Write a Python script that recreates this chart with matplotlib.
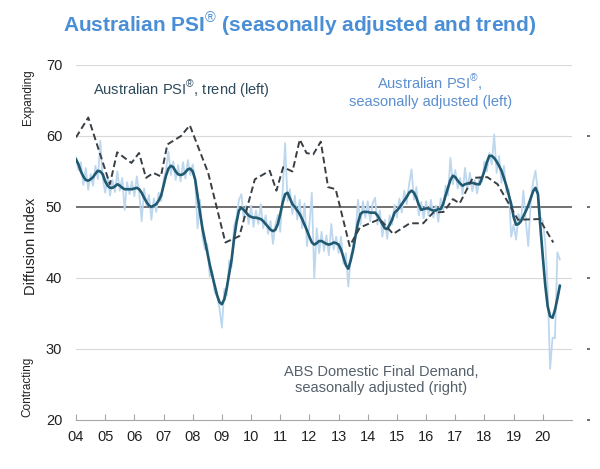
import numpy as np
import matplotlib
matplotlib.use("Agg")
import matplotlib.pyplot as plt

plt.rcParams['font.family'] = ['Liberation Sans', 'DejaVu Sans']
plt.rcParams['mathtext.fontset'] = 'custom'
plt.rcParams['mathtext.rm'] = 'Liberation Sans'

# Australian PSI, trend (monthly from Jan 2004)
psi_trend = [
    56.7, 56.0, 55.0, 54.3, 53.8, 53.7, 53.9, 54.2, 54.7, 55.1, 55.0, 54.6,  # 2004
    53.6, 53.0, 52.7, 52.7, 52.9, 53.2, 53.0, 52.7, 52.5, 52.5, 52.5, 52.5,  # 2005
    52.6, 52.7, 52.5, 52.0, 51.3, 50.7, 50.2, 50.0, 50.2, 50.4, 50.9, 51.6,  # 2006
    53.0, 54.4, 55.4, 55.8, 55.6, 55.0, 54.6, 54.5, 54.6, 54.9, 55.3, 55.4,  # 2007
    55.0, 53.9, 51.5, 49.2, 47.0, 45.3, 43.6, 41.9, 40.4, 39.0, 37.6, 36.6,  # 2008
    36.3, 37.0, 38.6, 40.6, 42.6, 45.5, 47.8, 49.5, 49.9, 49.6, 49.2, 48.8,  # 2009
    48.6, 48.5, 48.5, 48.4, 48.3, 48.0, 47.6, 47.2, 46.8, 46.6, 46.8, 47.6,  # 2010
    49.0, 50.6, 51.8, 52.0, 51.2, 50.4, 50.0, 49.5, 49.0, 48.3, 47.5, 46.7,  # 2011
    45.8, 45.0, 44.7, 44.9, 45.2, 45.2, 45.0, 44.8, 44.7, 44.8, 45.0, 44.9,  # 2012
    44.7, 44.0, 42.9, 41.8, 41.3, 42.5, 44.0, 46.0, 47.8, 49.0, 49.3, 49.3,  # 2013
    49.3, 49.2, 49.2, 49.2, 48.8, 48.2, 47.6, 47.0, 46.9, 47.5, 48.2, 49.2,  # 2014
    49.5, 49.9, 50.4, 50.9, 51.4, 52.0, 52.3, 52.0, 51.3, 50.3, 49.6, 49.7,  # 2015
    49.8, 49.8, 49.6, 49.5, 49.5, 49.7, 49.7, 50.4, 51.6, 52.7, 53.8, 54.4,  # 2016
    54.2, 53.7, 53.3, 53.0, 53.2, 53.3, 53.4, 53.4, 53.3, 53.2, 53.2, 54.1,  # 2017
    55.1, 56.3, 57.2, 57.2, 56.9, 56.4, 55.8, 55.1, 54.1, 53.0, 51.7, 50.4,  # 2018
    48.6, 47.5, 47.6, 48.0, 48.7, 49.4, 50.2, 51.2, 52.2, 52.7, 51.8, 47.2,  # 2019
    43.0, 39.0, 36.0, 34.6, 34.4, 35.5, 37.1, 38.9,                          # 2020
]

# Australian PSI, seasonally adjusted (monthly from Jan 2004)
psi_sa = [
    57.0, 55.2, 56.3, 53.1, 55.5, 52.4, 54.6, 53.0, 55.8, 53.9, 59.3, 54.0,  # 2004
    52.0, 54.2, 51.6, 53.8, 52.1, 55.0, 52.3, 54.1, 49.6, 53.5, 51.8, 53.6,  # 2005
    51.5, 54.3, 52.0, 48.0, 52.6, 50.2, 51.7, 48.2, 51.2, 49.3, 52.0, 50.8,  # 2006
    53.8, 55.2, 57.8, 54.5, 56.4, 53.8, 55.9, 53.6, 56.3, 54.0, 56.6, 54.5,  # 2007
    56.0, 53.5, 47.0, 51.0, 45.8, 44.0, 44.8, 40.2, 41.0, 38.0, 37.5, 35.8,  # 2008
    33.0, 38.5, 37.5, 42.5, 41.5, 47.3, 48.5, 51.0, 51.8, 48.3, 50.2, 47.6,  # 2009
    50.2, 47.2, 49.5, 47.6, 50.4, 47.0, 48.8, 46.2, 48.0, 44.8, 47.5, 48.9,  # 2010
    46.5, 52.3, 59.0, 50.8, 52.5, 49.0, 51.6, 48.2, 51.0, 47.0, 50.5, 44.5,  # 2011
    47.5, 52.0, 40.0, 47.0, 43.5, 46.5, 43.8, 46.0, 43.2, 47.6, 44.0, 45.8,  # 2012
    43.5, 45.8, 42.0, 43.5, 38.8, 43.0, 44.5, 46.3, 51.0, 47.5, 50.8, 48.5,  # 2013
    50.8, 48.0, 50.5, 51.3, 47.5, 49.5, 45.8, 48.2, 45.5, 48.8, 47.5, 50.3,  # 2014
    48.5, 51.2, 49.2, 52.3, 50.4, 53.2, 55.3, 51.0, 52.8, 48.8, 50.7, 48.4,  # 2015
    50.8, 48.8, 51.0, 48.5, 50.2, 47.9, 51.2, 49.6, 53.0, 51.6, 56.9, 53.2,  # 2016
    55.2, 52.6, 54.1, 51.8, 55.5, 52.5, 54.8, 52.2, 53.8, 51.9, 54.2, 53.5,  # 2017
    56.4, 55.0, 57.6, 56.0, 60.2, 54.8, 57.2, 53.4, 55.8, 52.0, 52.5, 45.8,  # 2018
    47.5, 45.4, 49.0, 47.8, 52.3, 48.0, 44.5, 50.5, 53.5, 55.1, 52.0, 48.6,  # 2019
    48.0, 45.0, 38.6, 27.2, 31.6, 31.5, 43.6, 42.6,                          # 2020
]

# ABS domestic final demand, annual % change (right axis)
dfd_date = [2004.0, 2004.42, 2005.16, 2005.41, 2005.9, 2006.16, 2006.4, 2006.65,
            2006.91, 2007.13, 2007.6, 2007.9, 2008.53, 2009.12, 2009.6, 2010.13,
            2010.64, 2010.87, 2011.1, 2011.42, 2011.67, 2011.9, 2012.13, 2012.39,
            2012.64, 2012.9, 2013.38, 2013.73, 2014.41, 2014.87, 2015.44, 2015.9,
            2016.24, 2016.6, 2016.92, 2017.15, 2017.6, 2018.1, 2018.45, 2019.15,
            2019.88, 2020.36]
dfd_pct = [5.92, 7.04, 3.28, 5.08, 4.48, 5.04, 3.64, 3.92,
           3.72, 5.52, 6.0, 6.6, 3.92, 0.0, 0.36, 3.56,
           4.04, 2.92, 4.24, 4.0, 5.8, 5.04, 4.96, 5.68,
           3.12, 3.0, -0.2, 0.84, 1.32, 0.48, 1.08, 1.08,
           1.68, 1.72, 2.44, 2.2, 3.64, 3.68, 3.28, 1.28,
           1.32, 0.0]

years = list(range(2004, 2021))
year_labels = ["%02d" % (y % 100) for y in years]
left_ticks = [20, 30, 40, 50, 60, 70]
right_ticks = [-10, -6, -2, 2, 6]

months = 2004 + np.arange(len(psi_trend)) / 12.0

fig = plt.figure(figsize=(6, 4.69), dpi=100)
ax = fig.add_axes([0.1267, 0.1045, 0.8266, 0.757])

for v in [30, 40, 60, 70]:
    ax.axhline(v, color="#d9d9d9", lw=0.8, zorder=0)
ax.axhline(50, color="#595959", lw=1.2, zorder=1)

ax.plot(months, psi_sa, color="#bdd7ee", lw=1.3, zorder=2)
ax.plot(months, psi_trend, color="#1f5a72", lw=1.9, zorder=3)

ax.set_xlim(2004, 2021)
ax.set_ylim(20, 70)
ax.set_yticks(left_ticks)
ax.set_xticks(years)
ax.set_xticklabels(year_labels)
for s in ["left", "right", "top"]:
    ax.spines[s].set_visible(False)
ax.spines["bottom"].set_color("#a6a6a6")
ax.tick_params(axis="x", direction="in", length=4, color="#a6a6a6",
               labelsize=10.5, pad=7, labelcolor="#222222")
ax.tick_params(axis="y", length=0, labelsize=10.5, pad=10, labelcolor="#222222")

ax2 = ax.twinx()
ax2.plot(dfd_date, dfd_pct, color="#383f45", lw=1.4, ls=(0, (3.4, 1.8)), zorder=4)
ax2.set_ylim(-10, 10)
ax2.set_yticks(right_ticks)
for s in ["left", "top", "bottom"]:
    ax2.spines[s].set_visible(False)
# right-hand labels are cut off at the edge in the original; only slivers show
ax2.spines["right"].set_position(("outward", 11))
ax2.spines["right"].set_visible(False)
ax2.tick_params(axis="y", direction="out", length=2, width=1.2, color="#555555",
                labelright=False)

fig.text(0.5, 0.949, r"Australian PSI$^{\mathrm{®}}$ (seasonally adjusted and trend)",
         ha="center", va="center", fontsize=15, fontweight="bold", color="#4a8fd6")
fig.text(0.155, 0.81, r"Australian PSI$^{\mathrm{®}}$, trend (left)",
         ha="left", va="center", fontsize=10.5, color="#2e4b5c")
fig.text(0.717, 0.807, "Australian PSI$^{\\mathrm{®}}$,\nseasonally adjusted (left)",
         ha="center", va="center", fontsize=10.5, color="#5b8fd0", linespacing=1.2)
fig.text(0.635, 0.19, "ABS Domestic Final Demand,\nseasonally adjusted (right)",
         ha="center", va="center", fontsize=10.5, color="#55606b", linespacing=1.2)

fig.text(0.052, 0.475, "Diffusion Index", rotation=90, ha="center", va="center",
         fontsize=10.5, color="#222222")
fig.text(0.046, 0.793, "Expanding", rotation=90, ha="center", va="center",
         fontsize=8.5, color="#222222")
fig.text(0.046, 0.175, "Contracting", rotation=90, ha="center", va="center",
         fontsize=8.5, color="#222222")

fig.savefig("out.png", dpi=100)
